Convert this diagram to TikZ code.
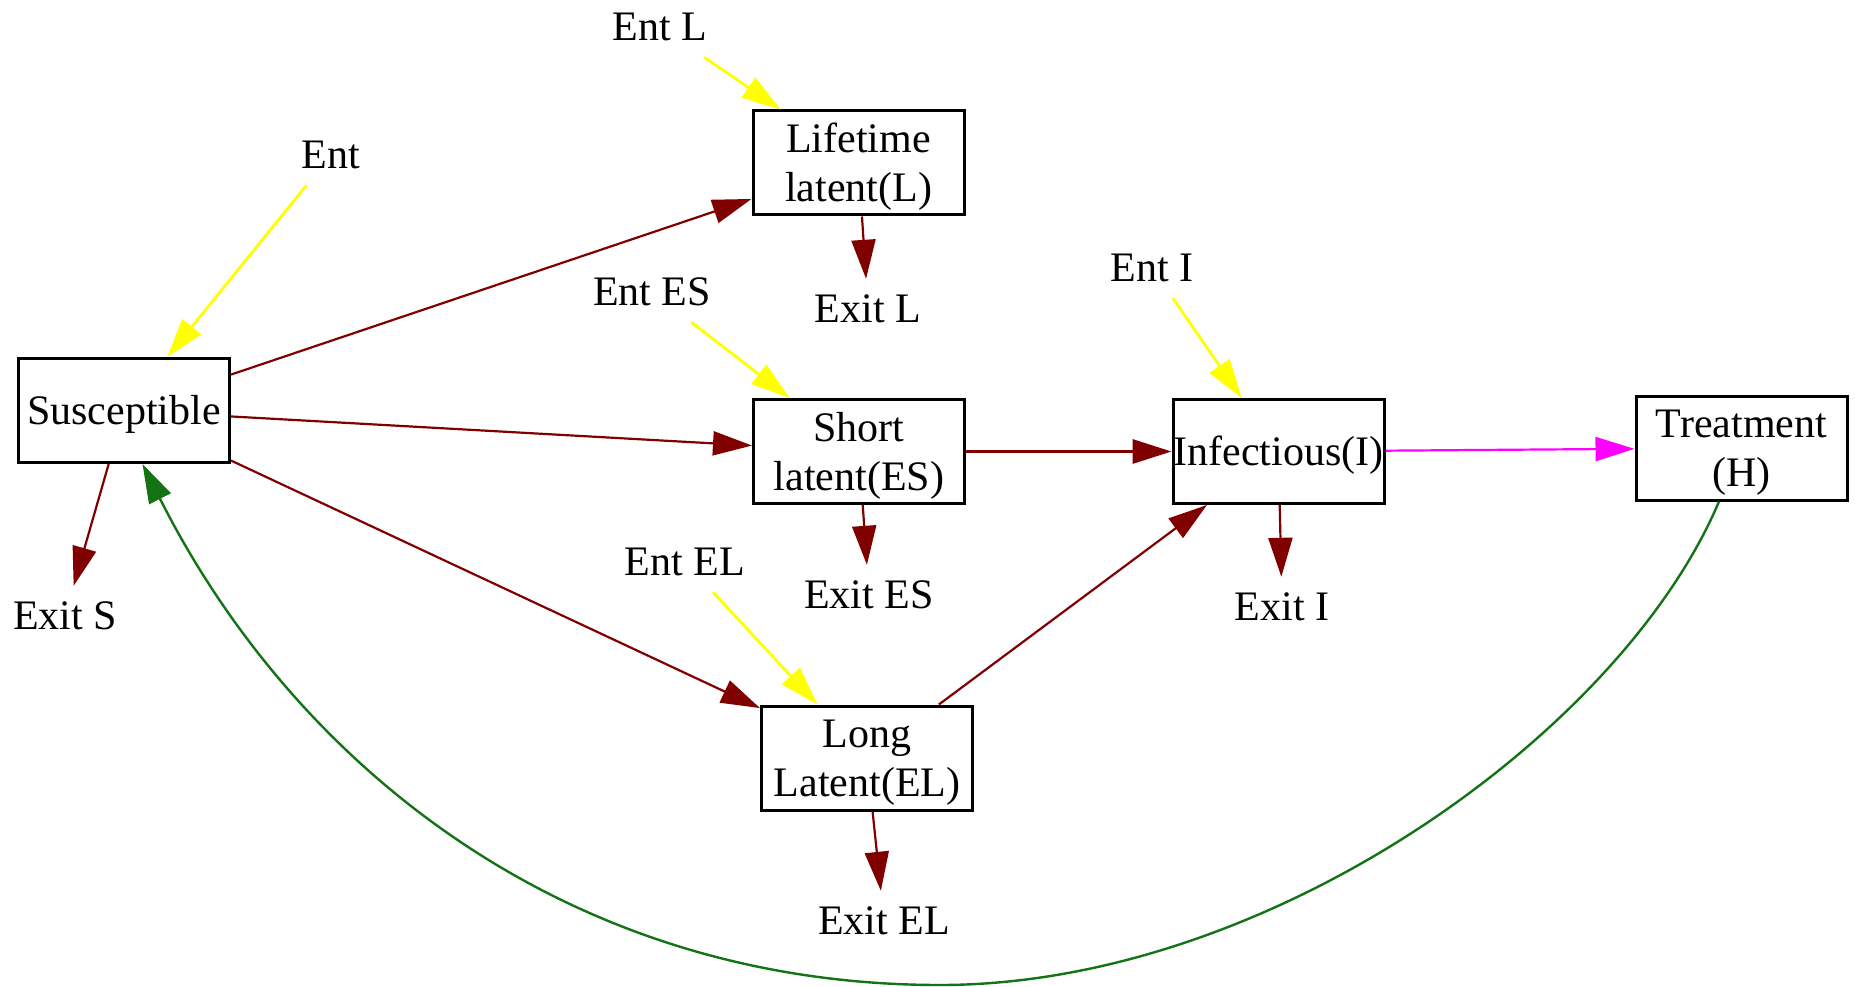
\documentclass[tikz,border=0pt]{standalone}
\usepackage{fontspec}
\setmainfont{Liberation Serif}
\usetikzlibrary{arrows.meta}

\definecolor{flowred}{RGB}{128,0,0}
\definecolor{entyellow}{RGB}{255,255,0}
\definecolor{treatpink}{RGB}{255,0,255}
\definecolor{backgreen}{RGB}{20,115,20}

% invisible strut that lowers the first text line inside a box
\newcommand{\firstlinestrut}{\rule{0pt}{37pt}}

\tikzset{
  stage/.style={draw=black, line width=3pt, minimum width=211pt,
    minimum height=104pt, inner sep=0pt, align=center},
  flowlabel/.style={minimum height=60pt, inner sep=0pt},
  tip/.style={-{Triangle[length=39pt,width=24pt]}},
  flow/.style={tip, draw=flowred, line width=2.2pt},
  entry/.style={tip, draw=entyellow, line width=2.8pt},
  cure/.style={tip, draw=treatpink, line width=2.2pt},
  back/.style={tip, draw=backgreen, line width=2.4pt},
}

\begin{document}
\begin{tikzpicture}[x=1pt, y=-1pt, font=\fontsize{42}{49}\selectfont]
\useasboundingbox (0,0) rectangle (1855,987);

% compartments
\node[stage] (sus) at (124,410.5) {\firstlinestrut Susceptible};
\node[stage] (lft) at (858.5,163) {\firstlinestrut Lifetime\\latent(L)};
\node[stage] (sht) at (859,451.5) {\firstlinestrut Short\\latent(ES)};
\node[stage] (inf) at (1278.5,451.5) {\firstlinestrut Infectious(I)};
\node[stage] (trt) at (1741.5,448) {\firstlinestrut Treatment\\(H)};
\node[stage] (lng) at (867,758) {\firstlinestrut Long\\Latent(EL)};

% entries and exits
\node[flowlabel] (ent)   at (331,155)  {Ent};
\node[flowlabel] (entL)  at (660,27)   {Ent L};
\node[flowlabel] (entES) at (652,292)  {Ent ES};
\node[flowlabel] (entI)  at (1152,268) {Ent I};
\node[flowlabel] (entEL) at (685,562)  {Ent EL};
\node[flowlabel] (exS)   at (65,616)   {Exit S};
\node[flowlabel] (exL)   at (868,309)  {Exit L};
\node[flowlabel] (exES)  at (869,595)  {Exit ES};
\node[flowlabel] (exI)   at (1282,607) {Exit I};
\node[flowlabel] (exEL)  at (884,921)  {Exit EL};

% inflows
\draw[entry] (ent)   -- (sus);
\draw[entry] (entL)  -- (lft);
\draw[entry] (entES) -- (sht);
\draw[entry] (entI)  -- (inf);
\draw[entry] (entEL) -- (lng);

% transitions
\draw[flow] (sus) -- (lft);
\draw[flow] (sus) -- (sht);
\draw[flow] (sus) -- (lng);
\draw[flow, line width=3.2pt] (sht) -- (inf);
\draw[flow] (lng) -- (inf);
\draw[cure] (inf) -- (trt);

% outflows
\draw[flow] (sus) -- (exS);
\draw[flow] (lft) -- (exL);
\draw[flow] (sht) -- (exES);
\draw[flow] (inf) -- (exI);
\draw[flow] (lng) -- (exEL);

% return from treatment
\draw[back] ([xshift=-22.5pt]trt.south)
  .. controls (1621.5,732) and (1270,985) .. (940,985)
  .. controls (560,985) and (291,758.7) .. ([xshift=18.5pt]sus.south);
\end{tikzpicture}
\end{document}
